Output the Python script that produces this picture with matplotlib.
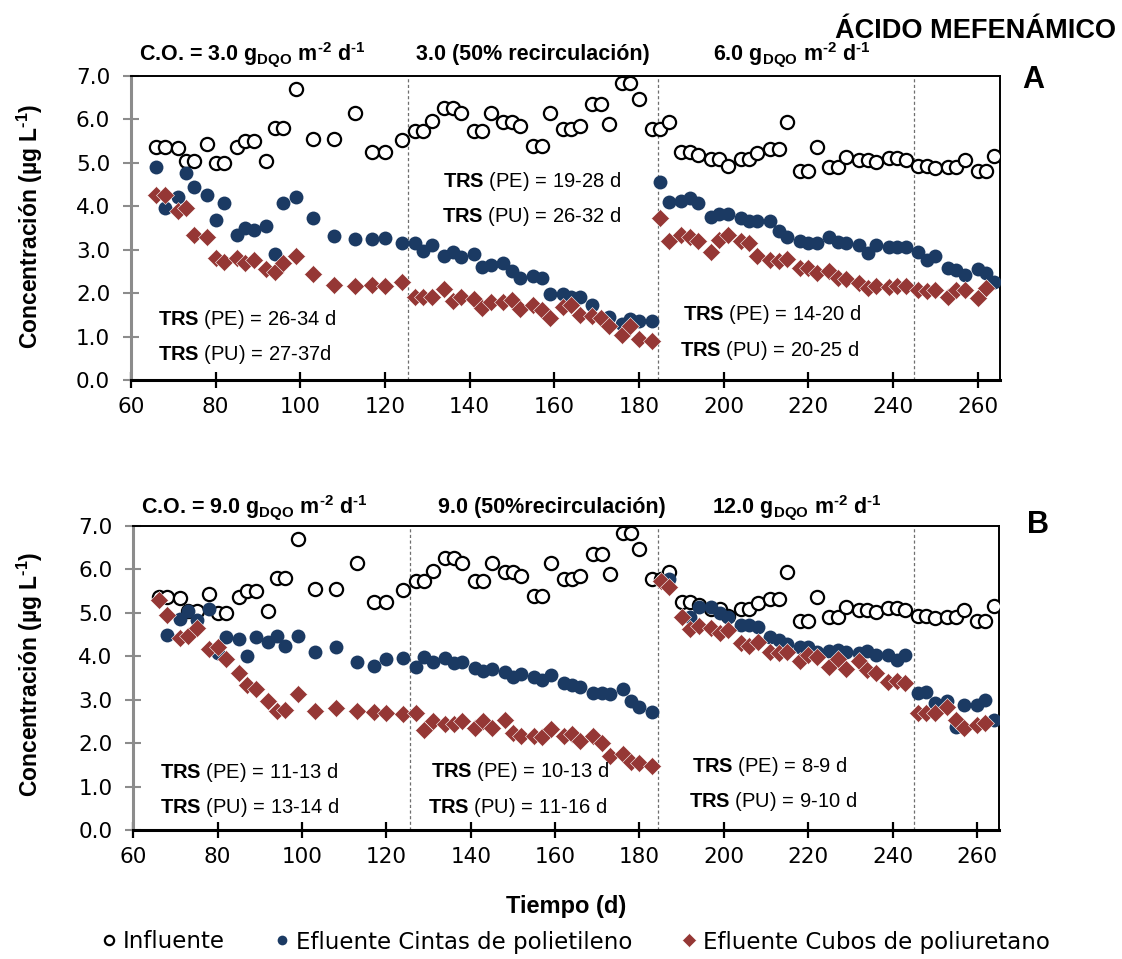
import numpy as np
import matplotlib
matplotlib.use("Agg")
import matplotlib.pyplot as plt

plt.rcParams['font.family'] = ['DejaVu Sans']
plt.rcParams['mathtext.fontset'] = 'custom'
plt.rcParams['mathtext.rm'] = 'Liberation Sans'
plt.rcParams['mathtext.bf'] = 'Liberation Sans:bold'
plt.rcParams['mathtext.it'] = 'Liberation Sans:italic'

# ---- data ----
dias = [66, 68, 71, 73, 75, 78, 80, 82, 85, 87, 89, 92, 94, 96, 99, 103, 108, 113, 117, 120, 124,
        127, 129, 131, 134, 136, 138, 141, 143, 145, 148, 150, 152, 155, 157, 159, 162, 164, 166,
        169, 171, 173, 176, 178, 180, 183, 185, 187,
        190, 192, 194, 197, 199, 201, 204, 206, 208, 211, 213, 215, 218, 220, 222, 225, 227, 229,
        232, 234, 236, 239, 241, 243, 246, 248, 250, 253, 255, 257, 260, 262, 264]
influente = [5.36, 5.36, 5.34, 5.04, 5.04, 5.43, 4.99, 4.99, 5.37, 5.50, 5.50, 5.05, 5.81, 5.81,
             6.69, 5.56, 5.56, 6.14, 5.26, 5.26, 5.53,
             5.73, 5.73, 5.96, 6.27, 6.27, 6.14, 5.74, 5.74, 6.14, 5.94, 5.94, 5.84, 5.39, 5.39,
             6.14, 5.79, 5.79, 5.86, 6.35, 6.35, 5.89, 6.83, 6.83, 6.46, 5.79, 5.79, 5.94,
             5.24, 5.24, 5.18, 5.09, 5.09, 4.93, 5.10, 5.10, 5.22, 5.31, 5.31, 5.93, 4.82, 4.82,
             5.36, 4.90, 4.90, 5.14, 5.07, 5.07, 5.02, 5.11, 5.11, 5.07, 4.93, 4.93, 4.88, 4.90,
             4.90, 5.07, 4.82, 4.82, 5.16]

# panel A
dias_pe_a = [66, 68, 71, 73, 75, 78, 80, 82, 85, 87, 89, 92, 94, 96, 99, 103, 108, 113, 117, 120,
             124, 127, 129, 131, 134, 136, 138, 141, 143, 145, 148, 150, 152, 155, 157, 159, 162,
             164, 166, 169, 173, 176, 178, 180, 183,
             185, 187, 190, 192, 194, 197, 199, 201, 204, 206, 208, 211, 213, 215, 218, 220, 222,
             225, 227, 229, 232, 234, 236, 239, 241, 243, 246, 248, 250, 253, 255, 257, 260, 262, 264]
pe_a = [4.90, 3.96, 4.22, 4.76, 4.44, 4.25, 3.69, 4.08, 3.33, 3.51, 3.45, 3.55, 2.89, 4.08, 4.22,
        3.74, 3.32, 3.24, 3.24, 3.27, 3.16, 3.15, 2.97, 3.12, 2.86, 2.95, 2.84, 2.90, 2.61, 2.65,
        2.69, 2.51, 2.34, 2.39, 2.36, 1.98, 1.97, 1.90, 1.92, 1.73, 1.46, 1.30, 1.40, 1.37, 1.36,
        4.55, 4.10, 4.12, 4.18, 4.08, 3.76, 3.82, 3.82, 3.73, 3.67, 3.67, 3.65, 3.44, 3.29, 3.21,
        3.16, 3.16, 3.30, 3.18, 3.16, 3.12, 2.92, 3.11, 3.06, 3.07, 3.06, 2.94, 2.76, 2.86, 2.59,
        2.53, 2.41, 2.55, 2.46, 2.25]
dias_pu_a = [66, 68, 71, 73, 75, 78, 80, 82, 85, 87, 89, 92, 94, 96, 99, 103, 108, 113, 117, 120,
             124, 127, 129, 131, 134, 136, 138, 141, 143, 145, 148, 150, 152, 155, 157, 159, 162,
             164, 166, 169, 171, 173, 176, 178, 180, 183,
             185, 187, 190, 192, 194, 197, 199, 201, 204, 206, 208, 211, 213, 215, 218, 220, 222,
             225, 227, 229, 232, 234, 236, 239, 241, 243, 246, 248, 250, 253, 255, 257, 260, 262]
pu_a = [4.27, 4.25, 3.88, 3.97, 3.35, 3.30, 2.82, 2.72, 2.82, 2.70, 2.76, 2.55, 2.48, 2.69, 2.86,
        2.44, 2.18, 2.16, 2.18, 2.16, 2.25, 1.90, 1.90, 1.90, 2.09, 1.83, 1.92, 1.87, 1.65, 1.80,
        1.79, 1.84, 1.63, 1.73, 1.61, 1.43, 1.69, 1.73, 1.50, 1.47, 1.42, 1.24, 1.03, 1.24, 0.95,
        0.90,
        3.72, 3.20, 3.34, 3.30, 3.20, 2.95, 3.22, 3.35, 3.20, 3.15, 2.86, 2.76, 2.75, 2.78, 2.57,
        2.59, 2.47, 2.51, 2.36, 2.33, 2.24, 2.11, 2.16, 2.13, 2.16, 2.16, 2.07, 2.06, 2.07, 1.90,
        2.08, 2.07, 1.88, 2.11]

# panel B
dias_pe_b = [68, 71, 73, 75, 78, 80, 82, 85, 87, 89, 92, 94, 96, 99, 103, 108, 113, 117, 120, 124,
             127, 129, 131, 134, 136, 138, 141, 143, 145, 148, 150, 152, 155, 157, 159, 162, 164,
             166, 169, 171, 173, 176, 178, 180, 183,
             187, 192, 194, 197, 199, 201, 204, 206, 208, 211, 213, 215, 218, 220, 222, 225, 227,
             229, 232, 234, 236, 239, 241, 243, 246, 248, 250, 253, 255, 257, 260, 262, 264]
pe_b = [4.48, 4.85, 5.04, 4.84, 5.10, 4.07, 4.45, 4.40, 4.01, 4.45, 4.33, 4.47, 4.24, 4.47, 4.10,
        4.22, 3.86, 3.78, 3.94, 3.95, 3.76, 3.99, 3.86, 3.97, 3.85, 3.87, 3.72, 3.65, 3.70, 3.63,
        3.52, 3.59, 3.53, 3.45, 3.57, 3.39, 3.34, 3.30, 3.15, 3.15, 3.13, 3.25, 2.98, 2.84, 2.71,
        5.79, 4.91, 5.13, 5.13, 4.99, 4.91, 4.72, 4.72, 4.68, 4.44, 4.37, 4.28, 4.22, 4.21, 4.11,
        4.13, 4.14, 4.11, 4.08, 4.13, 4.03, 4.04, 3.91, 4.03, 3.15, 3.18, 2.93, 2.96, 2.38, 2.88,
        2.88, 2.99, 2.53]
dias_pu_b = [66, 68, 71, 73, 75, 78, 80, 82, 85, 87, 89, 92, 94, 96, 99, 103, 108, 113, 117, 120,
             124, 127, 129, 131, 134, 136, 138, 141, 143, 145, 148, 150, 152, 155, 157, 159, 162,
             164, 166, 169, 171, 173, 176, 178, 180, 183,
             185, 187, 190, 192, 194, 197, 199, 201, 204, 206, 208, 211, 213, 215, 218, 220, 222,
             225, 227, 229, 232, 234, 236, 239, 241, 243, 246, 248, 250, 253, 255, 257, 260, 262]
pu_b = [5.30, 4.94, 4.41, 4.47, 4.66, 4.16, 4.22, 3.93, 3.61, 3.34, 3.25, 2.98, 2.75, 2.76, 3.13,
        2.75, 2.80, 2.75, 2.72, 2.69, 2.66, 2.69, 2.30, 2.52, 2.44, 2.44, 2.52, 2.34, 2.52, 2.34,
        2.53, 2.23, 2.16, 2.16, 2.15, 2.32, 2.16, 2.21, 2.04, 2.16, 2.00, 1.70, 1.75, 1.57, 1.54,
        1.47,
        5.73, 5.59, 4.91, 4.63, 4.70, 4.64, 4.53, 4.60, 4.31, 4.24, 4.34, 4.11, 4.07, 4.11, 3.88,
        4.03, 3.99, 3.76, 3.93, 3.70, 3.88, 3.68, 3.62, 3.40, 3.43, 3.38, 2.70, 2.69, 2.69, 2.84,
        2.53, 2.34, 2.42, 2.47]

cambios = [125.5, 184.5, 245]
x_ticks = [60, 80, 100, 120, 140, 160, 180, 200, 220, 240, 260]
y_ticks = [0, 1, 2, 3, 4, 5, 6, 7]

azul = '#1b3a63'
rojo = '#953735'

W, H = 1122, 959
fig = plt.figure(figsize=(W / 100, H / 100), dpi=100)


def ftext(x, y, s, **kw):
    return fig.text(x / W, 1 - y / H, s, **kw)


def panel(rect, dpe, pe, dpu, pu):
    ax = fig.add_axes(rect)
    l1, = ax.plot(dias, influente, 'o', ms=9.5, mfc='white', mec='black', mew=1.6,
                  label='Influente', zorder=3)
    l2, = ax.plot(dpe, pe, 'o', ms=10, color=azul, mec='none',
                  label='Efluente Cintas de polietileno', zorder=4)
    l3, = ax.plot(dpu, pu, 'D', ms=9.5, color=rojo, mec='white', mew=0.4,
                  label='Efluente Cubos de poliuretano', zorder=5)
    for c in cambios:
        ax.axvline(c, color='#6f6f6f', lw=0.9, ls=(0, (2.5, 2)), zorder=1)
    ax.set_xlim(60, 265.3)
    ax.set_ylim(0, 7)
    ax.set_xticks(x_ticks)
    ax.set_yticks(y_ticks)
    ax.set_yticklabels([f'{v:.1f}' for v in y_ticks])
    ax.tick_params(axis='y', direction='inout', length=12, width=1.5, color='#8c8c8c',
                   labelsize=15.5, pad=9)
    ax.tick_params(axis='x', direction='inout', length=12, width=1.6, color='black',
                   labelsize=15.5, pad=6)
    ax.spines['left'].set_color('#8c8c8c')
    ax.spines['left'].set_linewidth(2.2)
    ax.spines['bottom'].set_linewidth(2.2)
    ax.spines['top'].set_linewidth(1.4)
    ax.spines['right'].set_linewidth(1.4)
    return ax, (l1, l2, l3)


axA, handles = panel([131 / W, 1 - 380 / H, 869 / W, 304 / H], dias_pe_a, pe_a, dias_pu_a, pu_a)
axB, _ = panel([133.3 / W, 1 - 830 / H, 866 / W, 304 / H], dias_pe_b, pe_b, dias_pu_b, pu_b)

# superscript exponents written with a plain hyphen, as in the original
m2 = r'm$^{\mathbf{‐2}}$ d$^{\mathbf{‐1}}$'
hdr = dict(family='Liberation Sans', fontweight='bold', fontsize=15.5, ha='center', va='baseline')
ftext(1116, 38, 'ÁCIDO MEFENÁMICO', family='Liberation Sans', fontweight='bold',
      fontsize=19.5, ha='right', va='baseline')
ftext(252, 60, r'C.O. = 3.0 g$_{\mathbf{DQO}}$ ' + m2, **hdr)
ftext(533, 60, '3.0 (50% recirculación)', **hdr)
ftext(792, 60, r'6.0 g$_{\mathbf{DQO}}$ ' + m2, **hdr)
ftext(1033, 88, 'A', family='Liberation Sans', fontweight='bold', fontsize=22, ha='center',
      va='baseline')

ftext(254, 513, r'C.O. = 9.0 g$_{\mathbf{DQO}}$ ' + m2, **hdr)
ftext(552, 513, '9.0 (50%recirculación)', **hdr)
ftext(797, 513, r'12.0 g$_{\mathbf{DQO}}$ ' + m2, **hdr)
ftext(1038, 533, 'B', family='Liberation Sans', fontweight='bold', fontsize=22, ha='center',
      va='baseline')

trs = dict(family='Liberation Sans', fontsize=14.5, ha='left', va='baseline')
ftext(158, 325, r'$\mathbf{TRS}$ (PE) = 26-34 d', **trs)
ftext(158, 360, r'$\mathbf{TRS}$ (PU) = 27-37d', **trs)
ftext(443, 187, r'$\mathbf{TRS}$ (PE) = 19-28 d', **trs)
ftext(442, 222, r'$\mathbf{TRS}$ (PU) = 26-32 d', **trs)
ftext(683, 320, r'$\mathbf{TRS}$ (PE) = 14-20 d', **trs)
ftext(680, 356, r'$\mathbf{TRS}$ (PU) = 20-25 d', **trs)
ftext(160, 778, r'$\mathbf{TRS}$ (PE) = 11-13 d', **trs)
ftext(160, 813, r'$\mathbf{TRS}$ (PU) = 13-14 d', **trs)
ftext(431, 777, r'$\mathbf{TRS}$ (PE) = 10-13 d', **trs)
ftext(428, 813, r'$\mathbf{TRS}$ (PU) = 11-16 d', **trs)
ftext(692, 772, r'$\mathbf{TRS}$ (PE) = 8-9 d', **trs)
ftext(689, 807, r'$\mathbf{TRS}$ (PU) = 9-10 d', **trs)

ylab = dict(family='Liberation Sans', fontweight='bold', fontsize=16.5, rotation=90,
            ha='center', va='center')
ftext(30, 226, r'Concentración (µg L$^{\mathbf{‐1}}$)', **ylab)
ftext(30, 674, r'Concentración (µg L$^{\mathbf{‐1}}$)', **ylab)
ftext(566, 907, 'Tiempo (d)', family='Liberation Sans', fontweight='bold', fontsize=17,
      ha='center', va='center')

fig.legend(handles, [h.get_label() for h in handles], loc='center',
           bbox_to_anchor=(576 / W, 1 - 942 / H), ncol=3, frameon=False, fontsize=16.5,
           markerscale=0.7, handlelength=0.6, handletextpad=0.3, columnspacing=2.2,
           borderpad=0, borderaxespad=0)

fig.savefig('out.png', dpi=100)
